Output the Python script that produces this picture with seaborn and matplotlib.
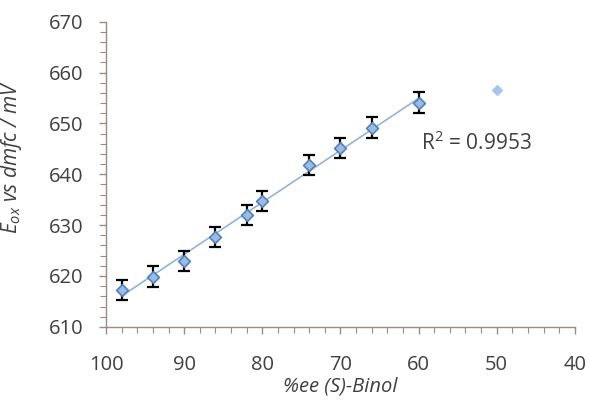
import matplotlib
matplotlib.use("Agg")
import matplotlib.pyplot as plt
import seaborn as sns
import numpy as np
import pandas as pd
from matplotlib.ticker import MultipleLocator

# data
ee = [98, 94, 90, 86, 82, 80, 74, 70, 66, 60]
potential = [617.3, 619.9, 622.9, 627.7, 632.0, 634.7, 641.8, 645.2, 649.2, 654.1]
err = [2.0, 2.0, 2.0, 2.0, 2.0, 2.0, 2.0, 2.0, 2.0, 2.0]
outlier_ee = [50]
outlier_pot = [656.6]
r2_text = "R$^2$ = 0.9953"

sns.set_style("white")
plt.rcParams['font.family'] = ['Open Sans', 'DejaVu Sans']
plt.rcParams['mathtext.fontset'] = 'custom'
plt.rcParams['mathtext.it'] = 'Open Sans:italic'
plt.rcParams['mathtext.rm'] = 'Open Sans'

df = pd.DataFrame({"ee": ee, "pot": potential})
fig = plt.figure(figsize=(5.89, 4.04), dpi=100)
ax = fig.add_axes([0.18, 0.191, 0.796, 0.755])

sns.regplot(data=df, x="ee", y="pot", scatter=False, ci=None, ax=ax,
            line_kws=dict(color="#95b3d7", lw=1.2, zorder=2))
ax.errorbar(ee, potential, yerr=err, fmt="none", ecolor="black",
            elinewidth=1.6, capsize=4, capthick=1.6, zorder=3)
sns.scatterplot(data=df, x="ee", y="pot", marker="D", s=36, color="#9bbbe3",
                edgecolor="#4f81bd", linewidth=1.2, ax=ax, zorder=4)
sns.scatterplot(x=outlier_ee, y=outlier_pot, marker="D", s=30, color="#a8c4e8",
                edgecolor="#a8c4e8", linewidth=0.5, ax=ax, zorder=4)

ax.set_xlim(100, 40)
ax.set_ylim(610, 670)
ax.xaxis.set_major_locator(MultipleLocator(10))
ax.xaxis.set_minor_locator(MultipleLocator(2))
ax.yaxis.set_major_locator(MultipleLocator(10))
ax.yaxis.set_minor_locator(MultipleLocator(2))

axis_col = "#9a8c84"
for side in ["top", "right"]:
    ax.spines[side].set_visible(False)
for side in ["left", "bottom"]:
    ax.spines[side].set_color(axis_col)
    ax.spines[side].set_linewidth(1.0)
ax.tick_params(which="major", direction="out", length=5, width=1.0, color=axis_col,
               labelsize=14.5, labelcolor="#404040")
ax.tick_params(axis="x", which="major", pad=15)
ax.tick_params(axis="y", which="major", pad=11)
ax.tick_params(which="minor", direction="out", length=4, width=0.8, color=axis_col)
ax.tick_params(axis="both", which="both", bottom=True, left=True)

ax.set_xlabel("%ee (S)-Binol", fontsize=14.5, style="italic", color="#404040", labelpad=1)
ax.set_ylabel("$E_{ox}$ vs dmfc / mV", fontsize=15, style="italic", color="#404040")
ax.yaxis.set_label_coords(-0.176, 0.557)

ax.text(59.7, 646.2, r2_text, fontsize=15, color="#404040", ha="left", va="center")

fig.savefig("out.png", dpi=100, facecolor="white")
